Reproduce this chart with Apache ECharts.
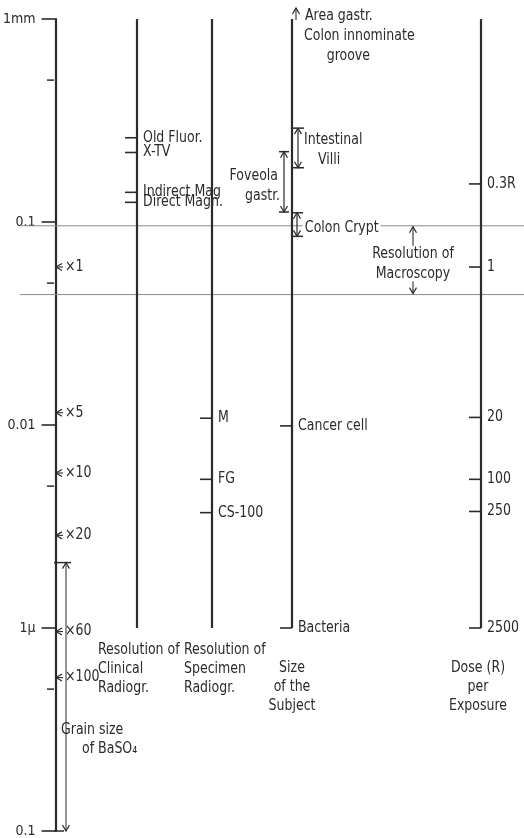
<!DOCTYPE html>
<html><head><meta charset="utf-8">
<script src="https://cdn.jsdelivr.net/npm/echarts@6/dist/echarts.min.js"></script>
<style>html,body{margin:0;padding:0;background:#fff}#c{width:524px;height:838px}</style>
</head><body><div id="c"></div>
<script>
// ---------- data (sizes in mm) ----------
const scaleTicks = [1, 0.1, 0.01, 0.001, 0.0001];
const scaleTickLabels = ['1mm', '0.1', '0.01', '1\u03bc', '0.1'];
const minorTicks = [0.5, 0.05, 0.005, 0.0005];
const magLabels = ['\u00d71', '\u00d75', '\u00d710', '\u00d720', '\u00d760', '\u00d7100'];
const magValues = [0.060, 0.0115, 0.0058, 0.00286, 0.00096, 0.00057];
const clinicalLabels = ['Old Fluor.', 'X-TV', 'Indirect Mag', 'Direct Magn.'];
const clinicalValues = [0.26, 0.22, 0.14, 0.125];
const specimenLabels = ['M', 'FG', 'CS-100'];
const specimenValues = [0.0108, 0.0054, 0.0037];
const subjectLabels = ['Cancer cell', 'Bacteria'];
const subjectValues = [0.0099, 0.001];
const doseLabels = ['0.3R', '1', '20', '100', '250', '2500'];
const doseValues = [0.154, 0.060, 0.0109, 0.0054, 0.00375, 0.001];
const villiRange = [0.29, 0.185];
const foveolaRange = [0.222, 0.112];
const cryptRange = [0.111, 0.085];
const macroscopyRange = [0.0958, 0.0439];
const grainRange = [0.0021, 0.0001];
const columnRange = [1, 0.001];

// ---------- layout / style ----------
const INK = '#2b2b2b';
const FONT = "'Liberation Sans Narrow','DejaVu Sans Condensed','Liberation Sans',sans-serif";
const FS = 15;
const SX = 0.93;
const COLX = { main: 54, clinical: 137, specimen: 212, subject: 292, dose: 481 };

const chart = echarts.init(document.getElementById('c'), null, { renderer: 'canvas' });

function renderItem(params, api) {
  const ch = [];
  const Y = v => api.coord([0, v])[1];
  const font = FS + 'px ' + FONT;
  function seg(x1, y1, x2, y2, w, col) {
    ch.push({ type: 'line', shape: { x1, y1, x2, y2 }, style: { stroke: col || INK, lineWidth: w || 1.5 } });
  }
  function txt(x, y, s, align, bg) {
    const st = { text: s, fill: INK, font: font, align: align || 'left', verticalAlign: 'middle' };
    if (bg) { st.backgroundColor = '#fff'; st.padding = [0, 2, 0, 2]; }
    ch.push({ type: 'text', x, y, scaleX: SX, style: st, z2: 10 });
  }
  function head(x, y, dir) {
    const s = 3.5, l = 6;
    let pts;
    if (dir === 'up') pts = [[x - s, y + l], [x, y], [x + s, y + l]];
    else if (dir === 'down') pts = [[x - s, y - l], [x, y], [x + s, y - l]];
    else pts = [[x + l, y - s], [x, y], [x + l, y + s]];
    ch.push({ type: 'polyline', shape: { points: pts }, style: { stroke: INK, lineWidth: 1.2, fill: null } });
  }
  function bracket(x, range, capL, capR) {
    const y1 = Y(range[0]), y2 = Y(range[1]);
    seg(x, y1, x, y2, 1.2);
    seg(x - capL, y1, x + capR, y1, 1.5);
    seg(x - capL, y2, x + capR, y2, 1.5);
    head(x, y1, 'up');
    head(x, y2, 'down');
    return [y1, y2];
  }

  // horizontal reference lines
  macroscopyRange.forEach(v => seg(20, Y(v), 524, Y(v), 1, '#8a8a8a'));

  // minor ticks of main scale
  minorTicks.forEach(v => seg(COLX.main - 7, Y(v), COLX.main, Y(v), 1.5));

  // magnification marks
  magValues.forEach((v, i) => {
    const y = Y(v), x = COLX.main + 2;
    head(x, y, 'left');
    seg(x, y, x + 7, y, 1.1);
    txt(x + 9, y, magLabels[i]);
  });

  // columns
  ['clinical', 'specimen', 'subject', 'dose'].forEach(k => {
    seg(COLX[k], Y(columnRange[0]), COLX[k], Y(columnRange[1]), 2.2);
  });
  function marks(x, vals, labs) {
    vals.forEach((v, i) => {
      const y = Y(v);
      seg(x - 12, y, x, y, 1.6);
      txt(x + 6, y, labs[i]);
    });
  }
  marks(COLX.clinical, clinicalValues, clinicalLabels);
  marks(COLX.specimen, specimenValues, specimenLabels);
  marks(COLX.subject, subjectValues, subjectLabels);
  marks(COLX.dose, doseValues, doseLabels);

  // top of subject column: arrow + text
  const top = Y(columnRange[0]);
  seg(COLX.subject + 4, top + 1, COLX.subject + 4, top - 11, 1.1);
  head(COLX.subject + 4, top - 11, 'up');
  txt(COLX.subject + 13, top - 3, 'Area gastr.');
  txt(COLX.subject + 12, top + 17, 'Colon innominate');
  txt(COLX.subject + 78, top + 37, 'groove', 'right');

  // brackets
  let r = bracket(COLX.subject + 6, villiRange, 5, 6);
  let m = (r[0] + r[1]) / 2;
  txt(COLX.subject + 12, m - 8, 'Intestinal');
  txt(COLX.subject + 37, m + 12, 'Villi', 'center');

  r = bracket(COLX.subject - 8, foveolaRange, 5, 5);
  m = (r[0] + r[1]) / 2;
  txt(COLX.subject - 14, m - 6, 'Foveola', 'right');
  txt(COLX.subject - 12, m + 14, 'gastr.', 'right');

  r = bracket(COLX.subject + 5, cryptRange, 5, 6);
  txt(COLX.subject + 11, Y(macroscopyRange[0]) + 2, 'Colon Crypt', 'left', true);

  // resolution of macroscopy
  const mx = 413, ya = Y(macroscopyRange[0]), yb = Y(macroscopyRange[1]);
  seg(mx, ya + 1, mx, ya + 20, 1.1); head(mx, ya + 1, 'up');
  seg(mx, yb - 1, mx, yb - 13, 1.1); head(mx, yb - 1, 'down');
  txt(mx, ya + 28, 'Resolution of', 'center');
  txt(mx, ya + 48, 'Macroscopy', 'center');

  // grain size of BaSO4
  const gx = COLX.main + 12;
  const g1 = Y(grainRange[0]), g2 = Y(grainRange[1]);
  seg(gx, g1, gx, g2, 1);
  seg(COLX.main, g1, gx + 5, g1, 1.5);
  seg(COLX.main, g2, gx - 2, g2, 1.5);
  head(gx, g1, 'up'); head(gx, g2, 'down');

  return { type: 'group', children: ch };
}

function cap(x, y, text, align) {
  return { type: 'text', x: x, y: y, scaleX: SX,
    style: { text: text, fill: INK, font: FS + 'px ' + FONT, lineHeight: 19, align: align || 'left', verticalAlign: 'middle' } };
}

chart.setOption({
  animation: false,
  backgroundColor: '#fff',
  grid: { left: 0, right: 0, top: 19, bottom: 6 },
  xAxis: { type: 'value', min: 0, max: 524, show: false },
  yAxis: {
    type: 'log', logBase: 10, min: scaleTicks[scaleTicks.length - 1], max: scaleTicks[0],
    position: 'left', offset: -COLX.main,
    axisLine: { show: true, onZero: false, lineStyle: { color: INK, width: 2.2 } },
    axisTick: { show: true, length: 14, lineStyle: { color: INK, width: 1.6 } },
    axisLabel: {
      margin: 20, color: INK, fontSize: 14, fontFamily: FONT,
      showMinLabel: true, showMaxLabel: true,
      formatter: v => {
        for (let i = 0; i < scaleTicks.length; i++) {
          if (Math.abs(Math.log10(v) - Math.log10(scaleTicks[i])) < 1e-6) return scaleTickLabels[i];
        }
        return '';
      }
    },
    splitLine: { show: false }
  },
  graphic: [
    cap(98, 669, 'Resolution of\nClinical\nRadiogr.'),
    cap(184, 669, 'Resolution of\nSpecimen\nRadiogr.'),
    cap(292, 687, 'Size\nof the\nSubject', 'center'),
    cap(478, 687, 'Dose (R)\nper\nExposure', 'center'),
    cap(61, 730, 'Grain size'),
    cap(82, 749, 'of BaSO\u2084')
  ],
  series: [{
    type: 'custom',
    coordinateSystem: 'cartesian2d',
    clip: false,
    silent: true,
    data: [[0, 1]],
    renderItem: renderItem
  }]
});
</script>
</body></html>
